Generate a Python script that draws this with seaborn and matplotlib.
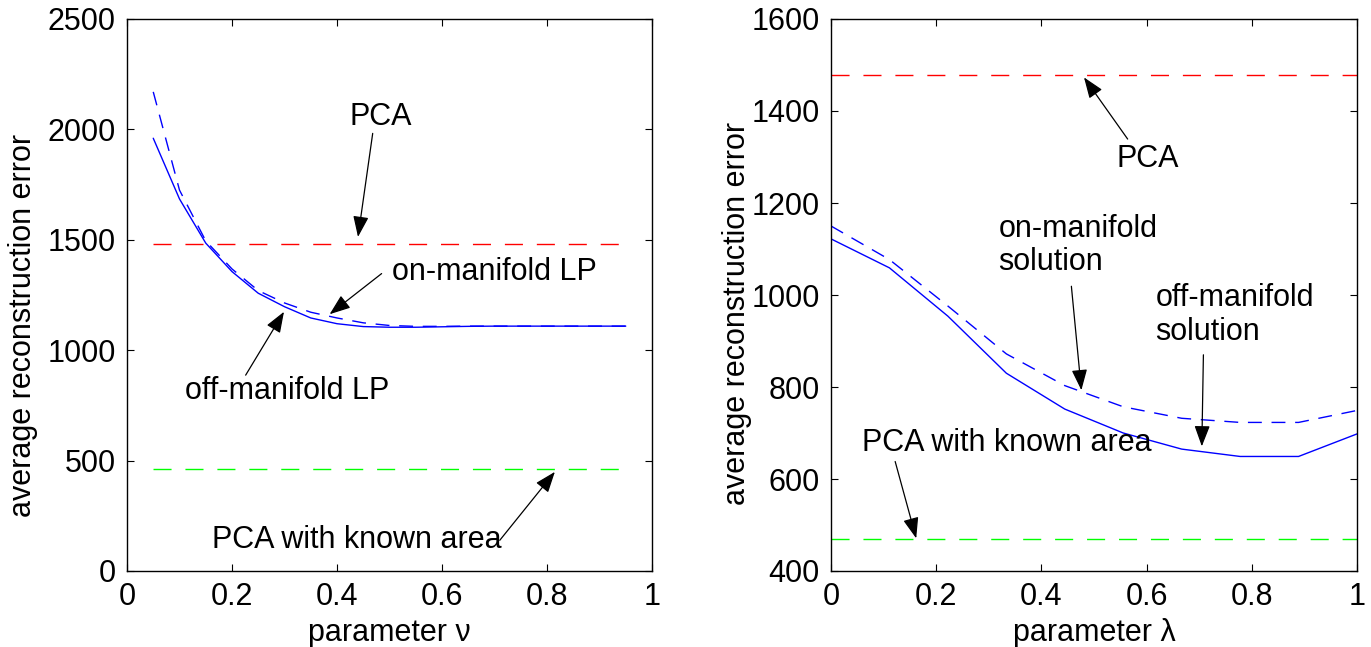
import matplotlib
matplotlib.use("Agg")
import matplotlib.pyplot as plt
import seaborn as sns
import pandas as pd

# left panel: parameter nu
nu = [0.05, 0.10, 0.15, 0.20, 0.25, 0.30, 0.35, 0.40, 0.45, 0.50,
      0.55, 0.60, 0.65, 0.70, 0.75, 0.80, 0.85, 0.90, 0.95]
off_lp = [1960, 1685, 1485, 1356, 1258, 1197, 1146, 1120, 1107, 1104,
          1104, 1106, 1108, 1109, 1109, 1109, 1109, 1109, 1109]
on_lp = [2170, 1725, 1495, 1368, 1270, 1214, 1172, 1146, 1124, 1112,
         1108, 1108, 1109, 1109, 1109, 1109, 1109, 1109, 1109]
pca_left = 1480
pca_known_left = 461

# right panel: parameter lambda
lam = [0, 1/9, 2/9, 3/9, 4/9, 5/9, 6/9, 7/9, 8/9, 1]
off_sol = [1122, 1059, 954, 830, 752, 700, 665, 649, 649, 698]
on_sol = [1150, 1077, 976, 872, 803, 757, 732, 723, 723, 749]
pca_right = 1478
pca_known_right = 469

xticks = [0, 0.2, 0.4, 0.6, 0.8, 1]
xtick_labels = ["0", "0.2", "0.4", "0.6", "0.8", "1"]

sns.set_style("ticks")
plt.rcParams["font.family"] = ["Liberation Sans", "DejaVu Sans"]
plt.rcParams["font.size"] = 22
plt.rcParams["text.color"] = "black"
plt.rcParams["axes.labelcolor"] = "black"
plt.rcParams["xtick.color"] = "black"
plt.rcParams["ytick.color"] = "black"
plt.rcParams["xtick.direction"] = "in"
plt.rcParams["ytick.direction"] = "in"
plt.rcParams["xtick.top"] = True
plt.rcParams["ytick.right"] = True

W, H = 1371, 647
fig = plt.figure(figsize=(W / 100, H / 100), dpi=100)
ax1 = fig.add_axes([127 / W, 1 - 571 / H, 525 / W, 552 / H])
ax2 = fig.add_axes([831 / W, 1 - 571 / H, 526 / W, 552 / H])

dash_long = (13, 10)
dash_blue = (10, 7)
arrow = dict(arrowstyle="-|>,head_length=0.8,head_width=0.3", mutation_scale=16,
             color="black", lw=0.9, shrinkA=0, shrinkB=0)

# ---- left
df1 = pd.DataFrame({"nu": nu, "off": off_lp, "on": on_lp})
ax1.plot([nu[0], nu[-1]], [pca_left, pca_left], color="#ff0000", lw=1.0, dashes=dash_long)
ax1.plot([nu[0], nu[-1]], [pca_known_left, pca_known_left], color="#00ff00", lw=1.0, dashes=dash_long)
sns.lineplot(data=df1, x="nu", y="on", ax=ax1, color="#0000ff", lw=1.0)
ax1.lines[-1].set_dashes(dash_blue)
sns.lineplot(data=df1, x="nu", y="off", ax=ax1, color="#0000ff", lw=1.0)

ax1.set_xlim(0, 1)
ax1.set_ylim(0, 2500)
ax1.set_yticks([0, 500, 1000, 1500, 2000, 2500])
ax1.set_xlabel("parameter ν", labelpad=4)
ax1.set_ylabel("average reconstruction error")
ax1.yaxis.set_label_coords(-0.170, 0.444)

ax1.text(0.484, 2057, "PCA", ha="center", va="center")
ax1.annotate("", xy=(0.44, 1513), xytext=(0.468, 1982), arrowprops=arrow)
ax1.text(0.504, 1355, "on-manifold LP", ha="left", va="center")
ax1.annotate("", xy=(0.386, 1163), xytext=(0.485, 1347), arrowprops=arrow)
ax1.text(0.110, 816, "off-manifold LP", ha="left", va="center")
ax1.annotate("", xy=(0.299, 1174), xytext=(0.226, 887), arrowprops=arrow)
ax1.text(0.161, 139, "PCA with known area", ha="left", va="center")
ax1.annotate("", xy=(0.815, 449), xytext=(0.71, 139), arrowprops=arrow)

# ---- right
df2 = pd.DataFrame({"lam": lam, "off": off_sol, "on": on_sol})
ax2.plot([lam[0], lam[-1]], [pca_right, pca_right], color="#ff0000", lw=1.0, dashes=dash_long)
ax2.plot([lam[0], lam[-1]], [pca_known_right, pca_known_right], color="#00ff00", lw=1.0, dashes=dash_long)
sns.lineplot(data=df2, x="lam", y="on", ax=ax2, color="#0000ff", lw=1.0)
ax2.lines[-1].set_dashes(dash_blue)
sns.lineplot(data=df2, x="lam", y="off", ax=ax2, color="#0000ff", lw=1.0)

ax2.set_xlim(0, 1)
ax2.set_ylim(400, 1600)
ax2.set_yticks([400, 600, 800, 1000, 1200, 1400, 1600])
ax2.set_xlabel("parameter λ", labelpad=4)
ax2.set_ylabel("average reconstruction error")
ax2.yaxis.set_label_coords(-0.150, 0.466)

ax2.text(0.603, 1295, "PCA", ha="center", va="center")
ax2.annotate("", xy=(0.481, 1473), xytext=(0.564, 1339), arrowprops=arrow)
ax2.text(0.318, 1108, "on-manifold\nsolution", ha="left", va="center", linespacing=1.15)
ax2.annotate("", xy=(0.476, 793), xytext=(0.457, 1019), arrowprops=arrow)
ax2.text(0.617, 957, "off-manifold\nsolution", ha="left", va="center", linespacing=1.15)
ax2.annotate("", xy=(0.705, 671), xytext=(0.708, 870), arrowprops=arrow)
ax2.text(0.059, 678, "PCA with known area", ha="left", va="center")
ax2.annotate("", xy=(0.162, 471), xytext=(0.122, 638), arrowprops=arrow)

for ax in (ax1, ax2):
    ax.set_xticks(xticks)
    ax.set_xticklabels(xtick_labels)
    ax.tick_params(length=5, width=0.8, pad=8, labelsize=22)
    for s in ax.spines.values():
        s.set_linewidth(1.0)
        s.set_color("black")
    ax.set_facecolor("white")

fig.savefig("out.png", dpi=100, facecolor="white")
